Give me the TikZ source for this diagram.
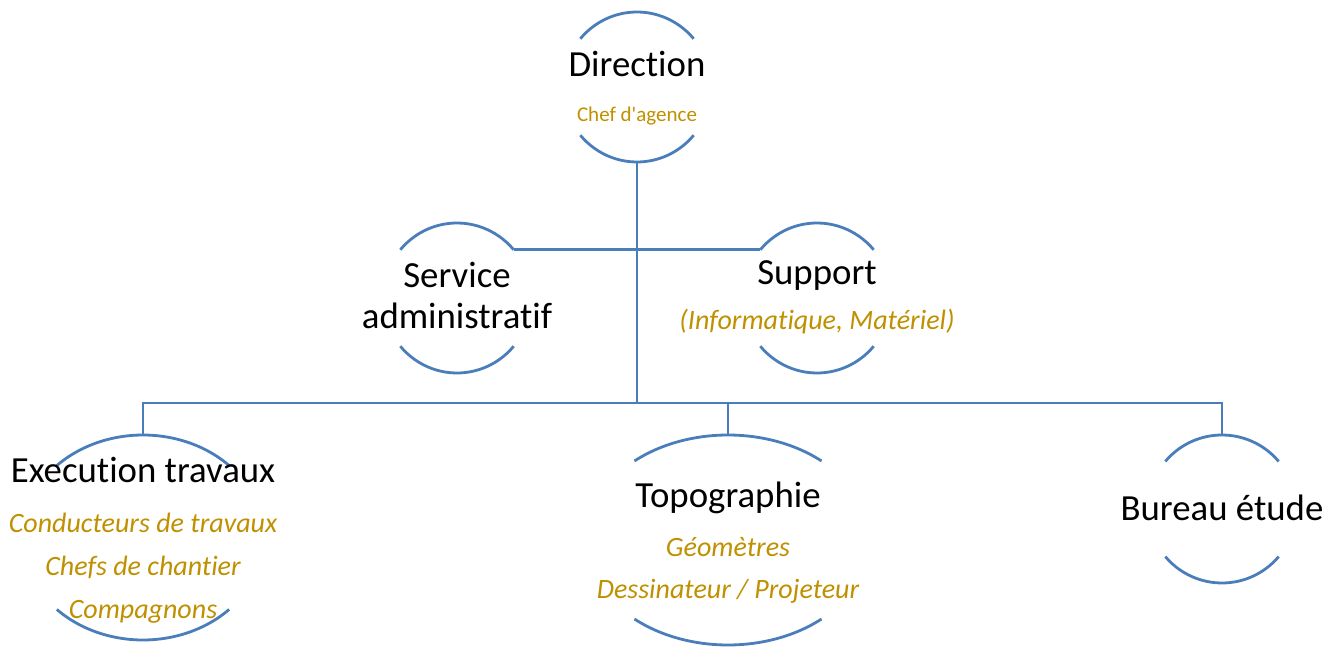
\documentclass[tikz,border=0pt]{standalone}
\usepackage{fontspec}
\setmainfont{Carlito}[Ligatures={TeXOff,NoCommon}]
\usepackage{tikz}
\definecolor{orgline}{RGB}{74,126,187}
\definecolor{orggold}{RGB}{191,144,0}

\begin{document}
\begin{tikzpicture}[
    x=1pt, y=1pt,
    arcline/.style={draw=orgline, line width=2.8pt},
    conn/.style={draw=orgline, line width=2.8pt},
    title/.style={anchor=base, inner sep=0pt, font=\fontsize{36.8}{44}\selectfont},
    sub/.style={anchor=base, inner sep=0pt, text=orggold, font=\fontsize{28}{34}\selectfont\itshape},
    small/.style={anchor=base, inner sep=0pt, text=orggold, font=\fontsize{21}{25}\selectfont}
]
    \useasboundingbox (0,0) rectangle (1342,646);

    % Units: name / centre x / centre y / x radius / y radius / arc angle
    \foreach \n/\cx/\cy/\rx/\ry/\ang in {dir/637/559/74/75/40, adm/457/348/74/75/40,
        sup/817/348/74/75/40, exe/143/108.5/121/102.5/44.6,
        topo/728/106/142/105/48.8, bur/1222/137/74/74/40} {
        \coordinate (\n) at (\cx,\cy);
        \coordinate (\n-top) at ([yshift=\ry pt]\n);
        \coordinate (\n-bot) at ([yshift=-\ry pt]\n);
        \coordinate (\n-tl) at ([shift={(180-\ang:\rx pt and \ry pt)}]\n);
        \coordinate (\n-tr) at ([shift={(\ang:\rx pt and \ry pt)}]\n);
        \draw[arcline] (\n-tr) arc[start angle=\ang, end angle=180-\ang, x radius=\rx pt, y radius=\ry pt];
        \draw[arcline] ([shift={(180+\ang:\rx pt and \ry pt)}]\n) arc[start angle=180+\ang, end angle=360-\ang, x radius=\rx pt, y radius=\ry pt];
    }

    % Connectors
    \coordinate (hub) at (637,243);
    \draw[conn] (dir-bot) -- (hub);
    \draw[conn] (adm-tr) -- (sup-tl);
    \draw[conn] (exe-top) |- (hub) -| (bur-top);
    \draw[conn] (topo-top) -- (topo-top |- hub);

    % Direction
    \node[title] (dir-t) at (637,569) {Direction};
    \node[small] (dir-s) at (637,524) {Chef d'agence};

    % Service administratif
    \node[title] (adm-t1) at (457,358) {Service};
    \node[title] (adm-t2) at (457,317) {administratif};

    % Support
    \node[title] (sup-t) at (817,361) {Support};
    \node[sub] (sup-s) at (817,316) {(Informatique, Matériel)};

    % Execution travaux
    \node[title] (exe-t) at (143,164) {Execution travaux};
    \node[sub] (exe-s1) at (143,114) {Conducteurs de travaux};
    \node[sub] (exe-s2) at (143,71) {Chefs de chantier};
    \node[sub] (exe-s3) at (143,28) {Compagnons};

    % Topographie
    \node[title] (topo-t) at (728,139) {Topographie};
    \node[sub] (topo-s1) at (728,90) {Géomètres};
    \node[sub] (topo-s2) at (728,48) {Dessinateur / Projeteur};

    % Bureau etude
    \node[title] (bur-t) at (1222,126) {Bureau étude};
\end{tikzpicture}
\end{document}
